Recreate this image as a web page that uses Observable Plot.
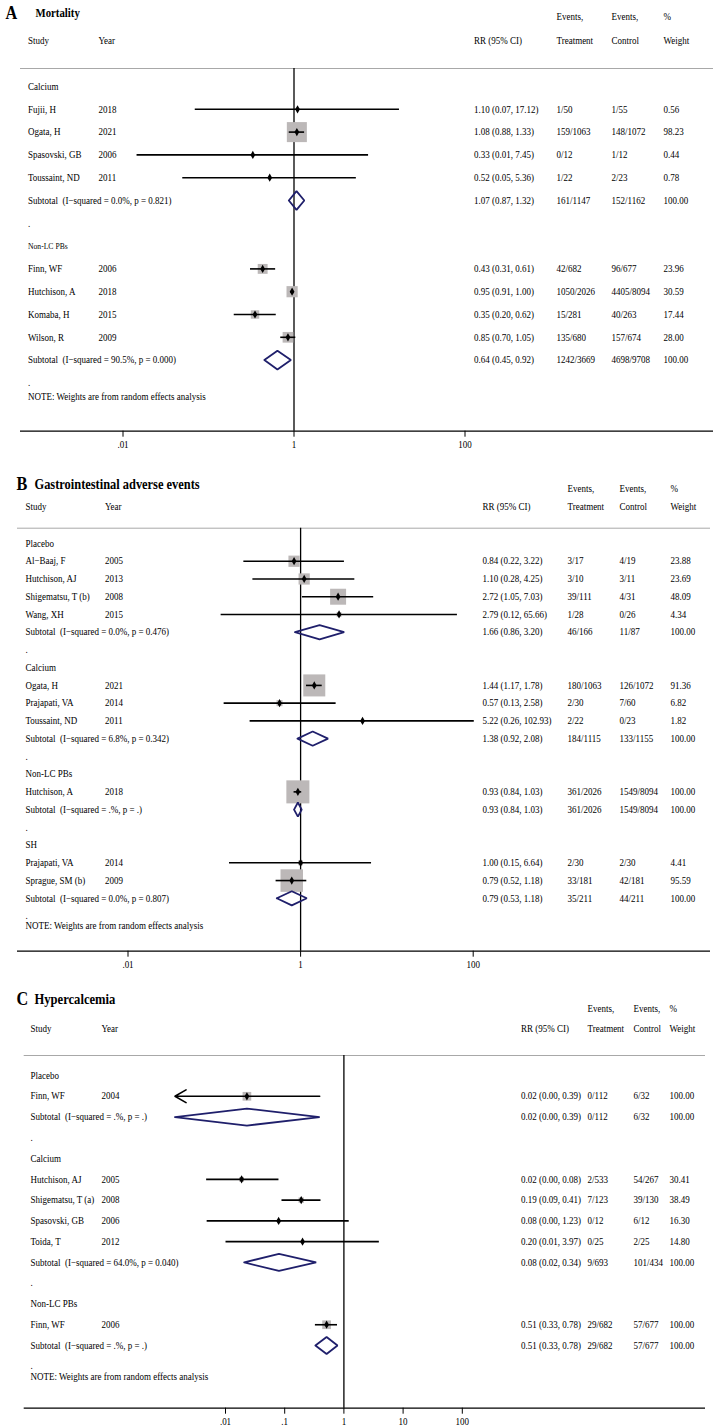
<!DOCTYPE html>
<html><head><meta charset="utf-8">
<script src="https://cdn.jsdelivr.net/npm/d3@7"></script>
<script src="https://cdn.jsdelivr.net/npm/@observablehq/plot@0.6"></script>
<style>
body{margin:0;background:#fff;}
#chart svg{display:block;}
</style></head><body><div id="chart"></div>
<script>
// ---------- Panel A: Mortality ----------
const mortalityGroups = ["Calcium", "Non-LC PBs"];
const mortalityStudies = [
  {group:"Calcium", study:"Fujii, H", year:"2018", rr:1.10, lo:0.07, hi:17.12, trt:"1/50", ctl:"1/55", weight:0.56},
  {group:"Calcium", study:"Ogata, H", year:"2021", rr:1.08, lo:0.88, hi:1.33, trt:"159/1063", ctl:"148/1072", weight:98.23},
  {group:"Calcium", study:"Spasovski, GB", year:"2006", rr:0.33, lo:0.0146, hi:7.45, trt:"0/12", ctl:"1/12", weight:0.44},
  {group:"Calcium", study:"Toussaint, ND", year:"2011", rr:0.52, lo:0.05, hi:5.36, trt:"1/22", ctl:"2/23", weight:0.78},
  {group:"Non-LC PBs", study:"Finn, WF", year:"2006", rr:0.43, lo:0.31, hi:0.61, trt:"42/682", ctl:"96/677", weight:23.96},
  {group:"Non-LC PBs", study:"Hutchison, A", year:"2018", rr:0.95, lo:0.91, hi:1.00, trt:"1050/2026", ctl:"4405/8094", weight:30.59},
  {group:"Non-LC PBs", study:"Komaba, H", year:"2015", rr:0.35, lo:0.20, hi:0.62, trt:"15/281", ctl:"40/263", weight:17.44},
  {group:"Non-LC PBs", study:"Wilson, R", year:"2009", rr:0.85, lo:0.70, hi:1.05, trt:"135/680", ctl:"157/674", weight:28.00}
];
const mortalitySubtotals = [
  {group:"Calcium", i2:"0.0%", p:"0.821", rr:1.07, lo:0.87, hi:1.32, trt:"161/1147", ctl:"152/1162", weight:100},
  {group:"Non-LC PBs", i2:"90.5%", p:"0.000", rr:0.64, lo:0.45, hi:0.92, trt:"1242/3669", ctl:"4698/9708", weight:100}
];

// ---------- Panel B: Gastrointestinal adverse events ----------
const giGroups = ["Placebo", "Calcium", "Non-LC PBs", "SH"];
const giStudies = [
  {group:"Placebo", study:"Al\u2212Baaj, F", year:"2005", rr:0.84, lo:0.22, hi:3.22, trt:"3/17", ctl:"4/19", weight:23.88},
  {group:"Placebo", study:"Hutchison, AJ", year:"2013", rr:1.10, lo:0.28, hi:4.25, trt:"3/10", ctl:"3/11", weight:23.69},
  {group:"Placebo", study:"Shigematsu, T (b)", year:"2008", rr:2.72, lo:1.05, hi:7.03, trt:"39/111", ctl:"4/31", weight:48.09},
  {group:"Placebo", study:"Wang, XH", year:"2015", rr:2.79, lo:0.12, hi:65.66, trt:"1/28", ctl:"0/26", weight:4.34},
  {group:"Calcium", study:"Ogata, H", year:"2021", rr:1.44, lo:1.17, hi:1.78, trt:"180/1063", ctl:"126/1072", weight:91.36},
  {group:"Calcium", study:"Prajapati, VA", year:"2014", rr:0.57, lo:0.13, hi:2.58, trt:"2/30", ctl:"7/60", weight:6.82},
  {group:"Calcium", study:"Toussaint, ND", year:"2011", rr:5.22, lo:0.26, hi:102.93, trt:"2/22", ctl:"0/23", weight:1.82},
  {group:"Non-LC PBs", study:"Hutchison, A", year:"2018", rr:0.93, lo:0.84, hi:1.03, trt:"361/2026", ctl:"1549/8094", weight:100.00},
  {group:"SH", study:"Prajapati, VA", year:"2014", rr:1.00, lo:0.15, hi:6.64, trt:"2/30", ctl:"2/30", weight:4.41},
  {group:"SH", study:"Sprague, SM (b)", year:"2009", rr:0.79, lo:0.52, hi:1.18, trt:"33/181", ctl:"42/181", weight:95.59}
];
const giSubtotals = [
  {group:"Placebo", i2:"0.0%", p:"0.476", rr:1.66, lo:0.86, hi:3.20, trt:"46/166", ctl:"11/87", weight:100},
  {group:"Calcium", i2:"6.8%", p:"0.342", rr:1.38, lo:0.92, hi:2.08, trt:"184/1115", ctl:"133/1155", weight:100},
  {group:"Non-LC PBs", i2:".%", p:".", rr:0.93, lo:0.84, hi:1.03, trt:"361/2026", ctl:"1549/8094", weight:100},
  {group:"SH", i2:"0.0%", p:"0.807", rr:0.79, lo:0.53, hi:1.18, trt:"35/211", ctl:"44/211", weight:100}
];

// ---------- Panel C: Hypercalcemia ----------
const hcGroups = ["Placebo", "Calcium", "Non-LC PBs"];
const hcStudies = [
  {group:"Placebo", study:"Finn, WF", year:"2004", rr:0.023, lo:0.0012, hi:0.39, trt:"0/112", ctl:"6/32", weight:100.00},
  {group:"Calcium", study:"Hutchison, AJ", year:"2005", rr:0.0187, lo:0.0048, hi:0.08, trt:"2/533", ctl:"54/267", weight:30.41},
  {group:"Calcium", study:"Shigematsu, T (a)", year:"2008", rr:0.19, lo:0.09, hi:0.41, trt:"7/123", ctl:"39/130", weight:38.49},
  {group:"Calcium", study:"Spasovski, GB", year:"2006", rr:0.079, lo:0.0049, hi:1.23, trt:"0/12", ctl:"6/12", weight:16.30},
  {group:"Calcium", study:"Toida, T", year:"2012", rr:0.20, lo:0.0102, hi:3.97, trt:"0/25", ctl:"2/25", weight:14.80},
  {group:"Non-LC PBs", study:"Finn, WF", year:"2006", rr:0.51, lo:0.33, hi:0.78, trt:"29/682", ctl:"57/677", weight:100.00}
];
const hcSubtotals = [
  {group:"Placebo", i2:".%", p:".", rr:0.023, lo:0.0012, hi:0.39, trt:"0/112", ctl:"6/32", weight:100},
  {group:"Calcium", i2:"64.0%", p:"0.040", rr:0.08, lo:0.0207, hi:0.34, trt:"9/693", ctl:"101/434", weight:100},
  {group:"Non-LC PBs", i2:".%", p:".", rr:0.51, lo:0.33, hi:0.78, trt:"29/682", ctl:"57/677", weight:100}
];

// ---------- Axis ticks and headings ----------
const ticksAB = [0.01, 1, 100];
const tickLabelsAB = [".01", "1", "100"];
const ticksC = [0.01, 0.1, 1, 10, 100];
const tickLabelsC = [".01", ".1", "1", "10", "100"];
const headerTop = ["Events,", "Events,", "%"];
const headerBottom = ["Study", "Year", "RR (95% CI)", "Treatment", "Control", "Weight"];
const noteText = "NOTE: Weights are from random effects analysis";

// ---------- Drawing ----------
const FONT = "'Liberation Serif', 'Times New Roman', serif";
const NAVY = "#1f1f6b";
const BOX = "#bcb8b8";

function forest(cfg) {
  const L = cfg.layout;
  const rows = [];
  let r = 0;
  for (const g of cfg.groups) {
    rows.push({kind:"group", label:g, row:r++});
    for (const s of cfg.studies.filter(d => d.group === g)) rows.push({kind:"study", ...s, row:r++});
    const st = cfg.subtotals.find(d => d.group === g);
    rows.push({kind:"subtotal", ...st, study:`Subtotal\u00a0 (I\u2212squared = ${st.i2}, p = ${st.p})`, year:"", row:r++});
    rows.push({kind:"dot", label:".", row:r++});
  }
  const noteRow = r - 1 + L.noteOffset;
  const toRow = py => (py - L.row0) / L.step;
  const clipMin = L.clipMin || 0;
  const clip = v => Math.max(v, clipMin);
  const studyRows = rows.filter(d => d.kind === "study");
  const subRows = rows.filter(d => d.kind === "subtotal");
  const dataRows = rows.filter(d => d.kind === "study" || d.kind === "subtotal");
  const small = L.smallGroups || [];
  const labelRows = rows.filter(d => (d.kind === "group" && !small.includes(d.label)) || d.kind === "dot");
  const smallRows = rows.filter(d => d.kind === "group" && small.includes(d.label));
  const fmt = v => v.toFixed(2);
  const ci = d => `${fmt(d.rr)} (${fmt(d.lo)}, ${fmt(d.hi)})`;
  const diamond = subRows.flatMap(d => [
    {id:d.group, x:clip(d.lo), y:d.row},
    {id:d.group, x:d.rr, y:d.row - L.dh},
    {id:d.group, x:d.hi, y:d.row},
    {id:d.group, x:d.rr, y:d.row + L.dh},
    {id:d.group, x:clip(d.lo), y:d.row}
  ]);
  const xdom = [10 ** ((L.left - L.one) / L.decade), 10 ** ((L.right - L.one) / L.decade)];
  const dx = px => px - L.left;
  const ruleRow = toRow(L.ruleY), axisRow = toRow(L.axisY);
  const C = L.cols;
  const col = (data, px, text, extra = {}) =>
    Plot.text(data, {y: "row", text, frameAnchor: "left", dx: dx(px), textAnchor: "start", ...extra});
  const fixed = (str, px, py, extra = {}) =>
    Plot.text([str], {y: () => toRow(py), text: d => d, frameAnchor: "left", dx: dx(px), textAnchor: "start", ...extra});
  const tickMap = new Map(cfg.ticks.map((t, i) => [t, cfg.tickLabels[i]]));
  const headX = [C.study, C.year, C.rr, C.trt, C.ctl, C.wt];
  const topX = [C.trt, C.ctl, C.wt];

  const svg = Plot.plot({
    width: 714,
    height: L.height,
    marginLeft: L.left,
    marginRight: 714 - L.right,
    marginTop: 0,
    marginBottom: L.height - L.axisY,
    x: {type: "log", domain: xdom},
    y: {type: "linear", domain: [0, 1], range: [L.row0, L.row0 + L.step], axis: null},
    r: {type: "sqrt", domain: [0, 100], range: [0, L.boxR]},
    style: {fontFamily: FONT, fontSize: "10px", background: "#fff", color: "#000", overflow: "visible"},
    marks: [
      // title
      fixed(cfg.letter, L.letterX, L.titleY, {fontSize: 18, fontWeight: "bold"}),
      fixed(cfg.title, L.titleX, L.titleY, {fontSize: L.titleSize, fontWeight: "bold"}),
      // headers
      ...headerTop.map((h, i) => fixed(h, topX[i], L.eventsY)),
      ...headerBottom.map((h, i) => fixed(h, headX[i], L.headY)),
      Plot.ruleY([ruleRow], {stroke: "#a8a8a8", strokeWidth: 1}),
      // reference line and axis
      Plot.ruleX([1], {y1: () => ruleRow, y2: () => axisRow, stroke: "#000", strokeWidth: 1.3}),
      Plot.ruleY([axisRow], {stroke: "#000", strokeWidth: 1.3}),
      Plot.axisX({ticks: cfg.ticks, tickFormat: d => tickMap.get(d), tickSize: 6, tickPadding: 4, anchor: "bottom", fontSize: 10}),
      // study weight boxes
      Plot.dot(studyRows, {x: "rr", y: "row", symbol: "square", r: "weight", fill: BOX}),
      // confidence intervals
      Plot.ruleY(studyRows.filter(d => d.lo >= clipMin), {y: "row", x1: "lo", x2: "hi", stroke: "#000", strokeWidth: 1.6}),
      Plot.arrow(studyRows.filter(d => d.lo < clipMin), {x1: "hi", y1: "row", x2: () => clipMin, y2: "row", stroke: "#000", strokeWidth: 1.6, headLength: 12, headAngle: 60}),
      Plot.dot(studyRows, {x: "rr", y: "row", symbol: "diamond", r: 2.5, fill: "#000"}),
      // pooled diamonds
      Plot.line(diamond, {x: "x", y: "y", z: "id", stroke: NAVY, strokeWidth: 1.8, strokeLinejoin: "miter"}),
      // text columns
      col(labelRows, C.study, "label"),
      col(smallRows, C.study, "label", {fontSize: 8.5}),
      col(dataRows, C.study, "study"),
      col(studyRows, C.year, "year"),
      col(dataRows, C.rr, ci),
      col(dataRows, C.trt, "trt"),
      col(dataRows, C.ctl, "ctl"),
      col(dataRows, C.wt, d => fmt(d.weight)),
      Plot.text([noteText], {y: () => noteRow, text: d => d, frameAnchor: "left", dx: dx(C.study), textAnchor: "start"})
    ]
  });
  // Stata-like narrow glyphs: compress every label horizontally about its anchor
  d3.select(svg).selectAll("text").each(function() {
    const t = d3.select(this);
    const x = parseFloat(t.attr("x")) || 0;
    const prev = t.attr("transform") || "";
    t.attr("x", null).attr("transform", `${prev} translate(${x},0) scale(0.9,1)`);
  });
  return svg;
}

const chart = document.getElementById("chart");
chart.append(forest({
  letter: "A", title: "Mortality",
  groups: mortalityGroups, studies: mortalityStudies, subtotals: mortalitySubtotals,
  ticks: ticksAB, tickLabels: tickLabelsAB,
  layout: {height: 466, row0: 86, step: 22.8, axisY: 430.7, ruleY: 68, titleY: 12.7, eventsY: 16.7, headY: 40.7,
           noteOffset: 0.63, left: 20, right: 713, one: 293.5, decade: 85.5, boxR: 11.4, dh: 0.41,
           letterX: 5, titleX: 35, titleSize: 12, smallGroups: ["Non-LC PBs"],
           cols: {study: 27.5, year: 98, rr: 473.6, trt: 556, ctl: 611, wt: 663}}
}));
chart.append(forest({
  letter: "B", title: "Gastrointestinal adverse events",
  groups: giGroups, studies: giStudies, subtotals: giSubtotals,
  ticks: ticksAB, tickLabels: tickLabelsAB,
  layout: {height: 519, row0: 77, step: 17.74, axisY: 484.7, ruleY: 61.7, titleY: 18, eventsY: 22.3, headY: 40.7,
           noteOffset: 0.54, left: 17, right: 710, one: 300.1, decade: 86.3, boxR: 13, dh: 0.4,
           letterX: 16, titleX: 34, titleSize: 13.8,
           cols: {study: 25, year: 104.5, rr: 482, trt: 567, ctl: 619, wt: 670}}
}));
chart.append(forest({
  letter: "C", title: "Hypercalcemia",
  groups: hcGroups, studies: hcStudies, subtotals: hcSubtotals,
  ticks: ticksC, tickLabels: tickLabelsC,
  layout: {height: 442, row0: 90, step: 20.77, axisY: 422.7, ruleY: 70, titleY: 14, eventsY: 23, headY: 43.3,
           noteOffset: 0.52, left: 23.7, right: 705, one: 343.4, decade: 59.2, boxR: 4.9, dh: 0.41,
           letterX: 16, titleX: 34, titleSize: 14, clipMin: 0.0014,
           cols: {study: 30, year: 101, rr: 520.5, trt: 587, ctl: 633, wt: 669}}
}));
</script></body></html>
